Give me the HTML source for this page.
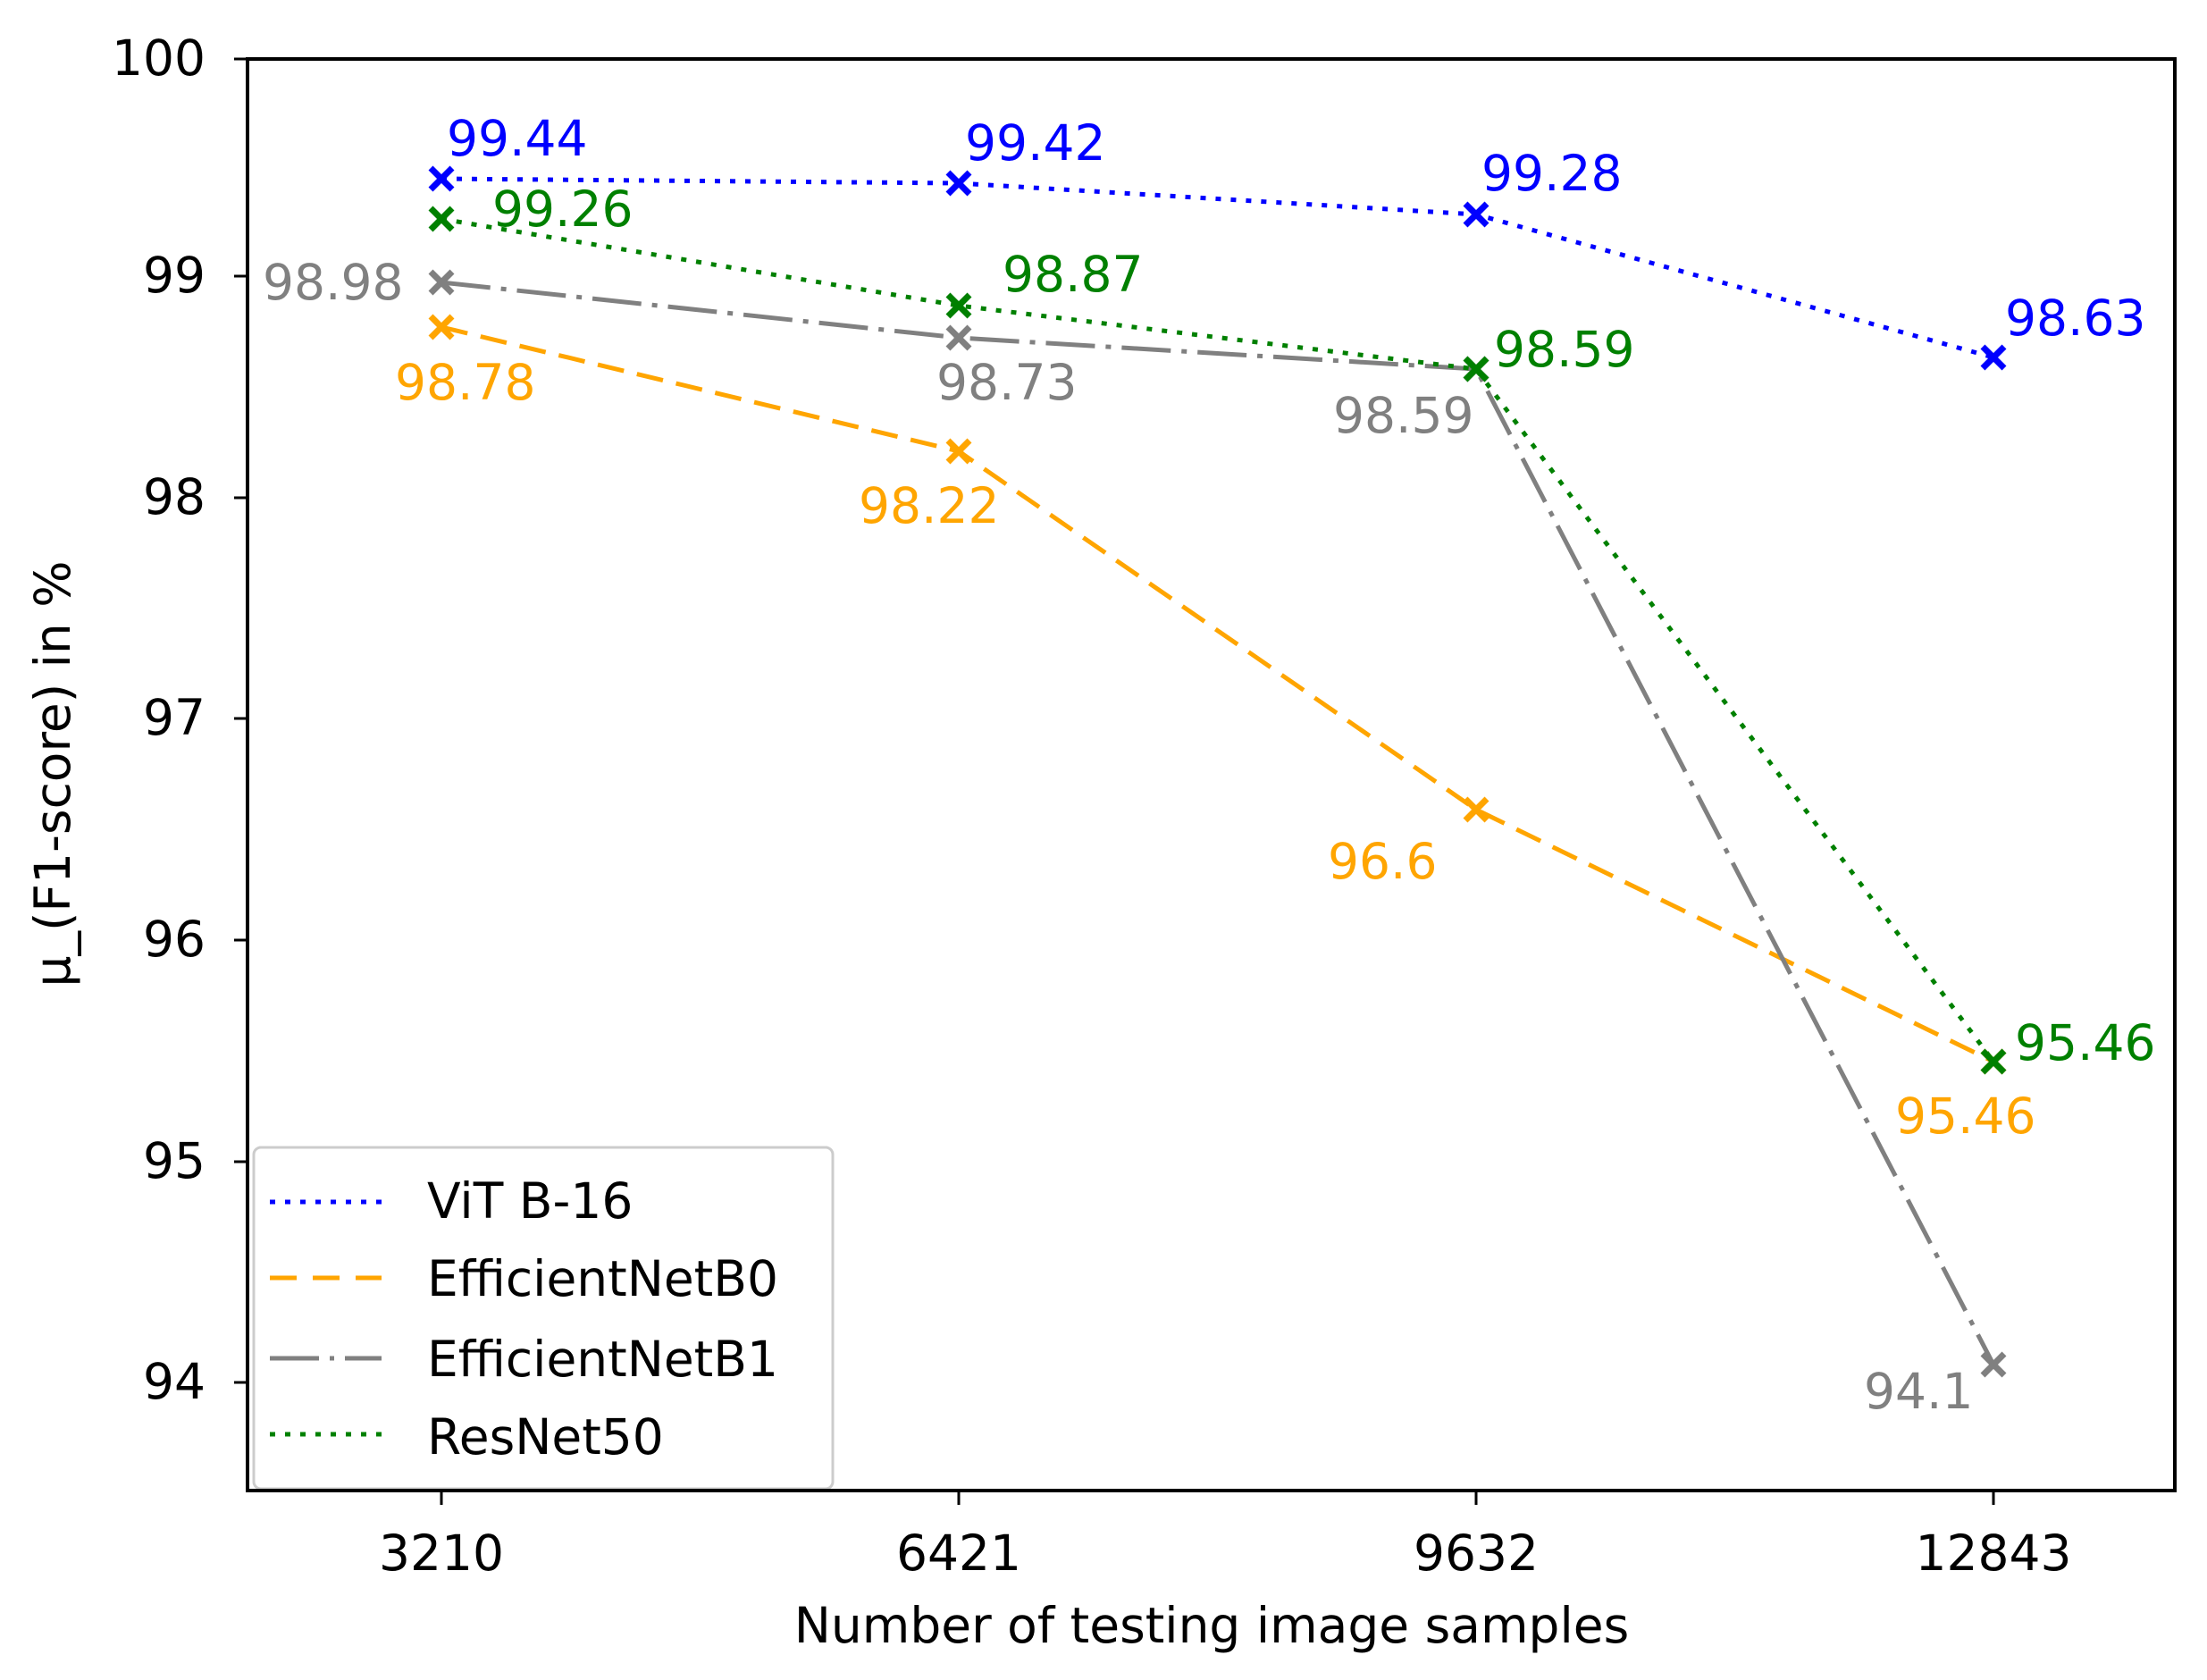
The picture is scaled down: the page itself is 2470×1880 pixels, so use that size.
<!DOCTYPE html>
<html><head><meta charset="utf-8"><style>html,body{margin:0;padding:0;background:#fff}svg{display:block}</style></head>
<body>
<svg width="2470" height="1880" viewBox="0 0 2470 1880" xmlns="http://www.w3.org/2000/svg" font-family="'DejaVu Sans','Liberation Sans',sans-serif">
<rect width="2470" height="1880" fill="#fff"/>
<g fill="none" stroke-width="5">
<polyline stroke="#0000ff" stroke-dasharray="6 11" points="494,200 1073,205 1652,240 2231,400"/>
<polyline stroke="#ffa500" stroke-dasharray="30 15" points="494,366 1073,505 1652,906 2231,1188"/>
<polyline stroke="#808080" stroke-dasharray="55 12 6 12" points="494,316 1073,378 1652,413 2231,1527"/>
<polyline stroke="#008000" stroke-dasharray="6 11" points="494,245 1073,342 1652,413 2231,1188"/>
</g>
<g stroke-width="7" fill="none">
<g stroke="#0000ff"><path d="M482,188l24,24M506,188l-24,24M1061,193l24,24M1085,193l-24,24M1640,228l24,24M1664,228l-24,24M2219,388l24,24M2243,388l-24,24"/></g>
<g stroke="#ffa500"><path d="M482,354l24,24M506,354l-24,24M1061,493l24,24M1085,493l-24,24M1640,894l24,24M1664,894l-24,24M2219,1176l24,24M2243,1176l-24,24"/></g>
<g stroke="#808080"><path d="M482,304l24,24M506,304l-24,24M1061,366l24,24M1085,366l-24,24M1640,401l24,24M1664,401l-24,24M2219,1515l24,24M2243,1515l-24,24"/></g>
<g stroke="#008000"><path d="M482,233l24,24M506,233l-24,24M1061,330l24,24M1085,330l-24,24M1640,401l24,24M1664,401l-24,24M2219,1176l24,24M2243,1176l-24,24"/></g>
</g>
<g font-size="55">
<g fill="#0000ff"><text x="500" y="174">99.44</text><text x="1080" y="179">99.42</text><text x="1658" y="213">99.28</text><text x="2244" y="375">98.63</text></g>
<g fill="#008000"><text x="551" y="253">99.26</text><text x="1122" y="326">98.87</text><text x="1672" y="410">98.59</text><text x="2255" y="1186">95.46</text></g>
<g fill="#808080"><text x="294" y="335">98.98</text><text x="1048" y="447">98.73</text><text x="1492" y="484">98.59</text><text x="2086" y="1576">94.1</text></g>
<g fill="#ffa500"><text x="442" y="447">98.78</text><text x="961" y="585">98.22</text><text x="1486" y="983">96.6</text><text x="2121" y="1268">95.46</text></g>
</g>
<rect x="284" y="1284" width="648" height="382" rx="8" fill="#fff" fill-opacity="0.8" stroke="#ccc" stroke-width="3"/>
<g stroke-width="5">
<line x1="302" y1="1345" x2="427" y2="1345" stroke="#0000ff" stroke-dasharray="6 11"/>
<line x1="302" y1="1430" x2="427" y2="1430" stroke="#ffa500" stroke-dasharray="30 18"/>
<line x1="302" y1="1520" x2="427" y2="1520" stroke="#808080" stroke-dasharray="55 12 5 12"/>
<line x1="302" y1="1605" x2="427" y2="1605" stroke="#008000" stroke-dasharray="6 11"/>
</g>
<g font-size="55" fill="#000">
<text x="478" y="1363">ViT B-16</text><text x="478" y="1450">EfficientNetB0</text><text x="478" y="1540">EfficientNetB1</text><text x="478" y="1627">ResNet50</text>
</g>
<rect x="277" y="66" width="2157" height="1602" fill="none" stroke="#000" stroke-width="4"/>
<g stroke="#000" stroke-width="3">
<line x1="262" y1="66" x2="277" y2="66"/><line x1="262" y1="309" x2="277" y2="309"/><line x1="262" y1="557" x2="277" y2="557"/><line x1="262" y1="804" x2="277" y2="804"/><line x1="262" y1="1052" x2="277" y2="1052"/><line x1="262" y1="1300" x2="277" y2="1300"/><line x1="262" y1="1547" x2="277" y2="1547"/>
<line x1="494" y1="1668" x2="494" y2="1684"/><line x1="1073" y1="1668" x2="1073" y2="1684"/><line x1="1652" y1="1668" x2="1652" y2="1684"/><line x1="2231" y1="1668" x2="2231" y2="1684"/>
</g>
<g font-size="55" fill="#000" text-anchor="end">
<text x="230" y="84">100</text><text x="230" y="327">99</text><text x="230" y="575">98</text><text x="230" y="822">97</text><text x="230" y="1070">96</text><text x="230" y="1318">95</text><text x="230" y="1565">94</text>
</g>
<g font-size="55" fill="#000" text-anchor="middle">
<text x="494" y="1757">3210</text><text x="1073" y="1757">6421</text><text x="1652" y="1757">9632</text><text x="2231" y="1757">12843</text>
<text x="1356" y="1838">Number of testing image samples</text>
<text transform="translate(78,866) rotate(-90)">μ_(F1-score) in %</text>
</g>
</svg>
</body></html>
